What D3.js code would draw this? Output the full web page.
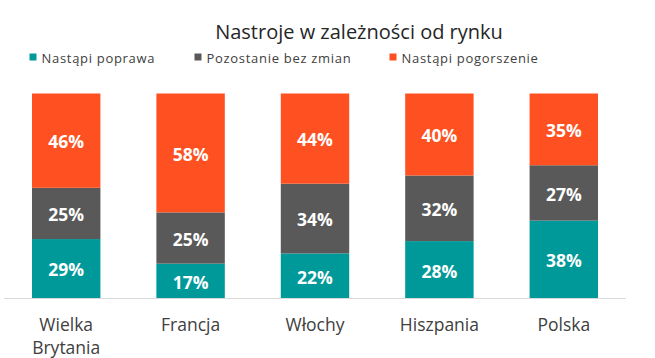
<!DOCTYPE html>
<html><head><meta charset="utf-8">
<script src="https://cdn.jsdelivr.net/npm/d3@7"></script>
<style>body{margin:0;background:#fff}svg{display:block}</style>
</head><body>
<script>
const categories = [["Wielka","Brytania"],["Francja"],["Włochy"],["Hiszpania"],["Polska"]];
const seriesNames = ["Nastąpi poprawa","Pozostanie bez zmian","Nastąpi pogorszenie"];
const poprawa = [29,17,22,28,38];
const bezZmian = [25,25,34,32,27];
const pogorszenie = [46,58,44,40,35];
const colors = ["#009999","#595959","#FF5021"];
const title = "Nastroje w zależności od rynku";

const W=655,H=358;
const svg=d3.select("body").append("svg").attr("width",W).attr("height",H);
const font="'Open Sans', sans-serif";

const x=d3.scaleBand().domain(d3.range(categories.length)).range([4,626]).paddingInner(0.45).paddingOuter(0.225);
const y=d3.scaleLinear().domain([0,100]).range([298.5,93.5]);

const rows=categories.map((c,i)=>({i,a:poprawa[i],b:bezZmian[i],c:pogorszenie[i]}));
const stack=d3.stack().keys(["a","b","c"])(rows);

stack.forEach((s,k)=>{
  const g=svg.append("g");
  g.selectAll("rect").data(s).enter().append("rect")
    .attr("x",d=>x(d.data.i)).attr("width",x.bandwidth())
    .attr("y",d=>y(d[1])).attr("height",d=>y(d[0])-y(d[1]))
    .attr("fill",colors[k]);
  g.selectAll("text").data(s).enter().append("text")
    .attr("x",d=>x(d.data.i)+x.bandwidth()/2)
    .attr("y",d=>(y(d[0])+y(d[1]))/2+7.7)
    .attr("text-anchor","middle").attr("fill","#fff")
    .attr("font-family",font).attr("font-weight","bold").attr("font-size","17.5px")
    .text(d=>(d[1]-d[0])+"%");
});

svg.append("line").attr("x1",4).attr("x2",626).attr("y1",298.5).attr("y2",298.5)
  .attr("stroke","#d9d9d9").attr("stroke-width",1);

categories.forEach((c,i)=>{
  const cx=x(i)+x.bandwidth()/2;
  const t=svg.append("text").attr("x",cx).attr("y",331)
    .attr("text-anchor","middle").attr("fill","#404040")
    .attr("font-family",font).attr("font-size","17.5px");
  c.forEach((line,j)=>t.append("tspan").attr("x",cx).attr("dy",j?22.5:0).text(line));
});

svg.append("text").attr("x",359).attr("y",38.5).attr("text-anchor","middle")
  .attr("fill","#262626").attr("font-family",font).attr("font-size","20px").text(title);

const legX=[29.5,194.5,389.5];
seriesNames.forEach((n,k)=>{
  svg.append("rect").attr("x",legX[k]).attr("y",53.5).attr("width",7).attr("height",7).attr("fill",colors[k]);
  svg.append("text").attr("x",legX[k]+12).attr("y",63).attr("fill","#404040")
    .attr("font-family",font).attr("font-size","13px").attr("letter-spacing","0.7px").text(n);
});
</script>
</body></html>
